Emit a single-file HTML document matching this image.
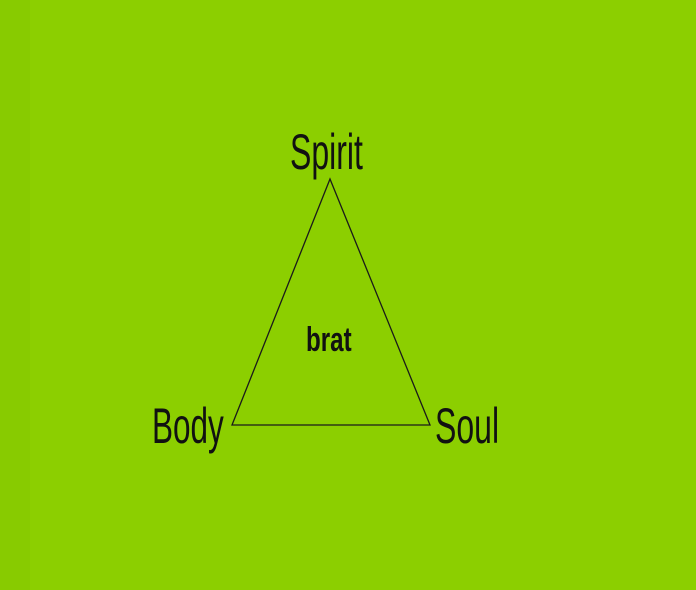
<!DOCTYPE html>
<html><head><meta charset="utf-8"><style>
html,body{margin:0;padding:0}
body{width:696px;height:590px;background:#8ccf00;position:relative;overflow:hidden;font-family:"Liberation Sans",sans-serif;color:#111}
.t{position:absolute;white-space:nowrap;transform-origin:0 0;line-height:1}
</style></head><body>
<div style="position:absolute;left:0;top:0;width:30px;height:590px;background:#88cb00"></div>
<svg width="696" height="590" style="position:absolute;left:0;top:0">
<polygon points="330,179 232,425 430,425" fill="none" stroke="#1a1a1a" stroke-width="1.3"/>
</svg>
<div class="t" style="left:290px;top:127px;font-size:50px;transform:scaleX(0.64)">Spirit</div>
<div class="t" style="left:152px;top:401px;font-size:50px;transform:scaleX(0.63)">Body</div>
<div class="t" style="left:435px;top:401px;font-size:50px;transform:scaleX(0.64)">Soul</div>
<div class="t" style="left:306px;top:323px;font-size:34px;font-weight:bold;transform:scaleX(0.71)">brat</div>
</body></html>
